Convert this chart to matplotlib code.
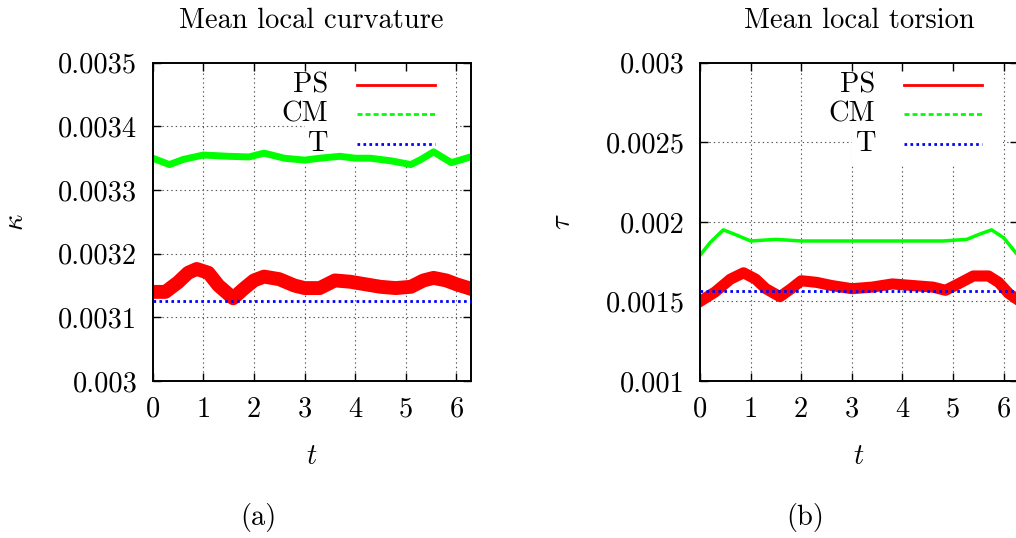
import matplotlib
matplotlib.use("Agg")
import matplotlib.pyplot as plt
from matplotlib.lines import Line2D
from matplotlib.patches import Rectangle

plt.rcParams['font.family'] = ['cmr10', 'DejaVu Serif']
plt.rcParams['mathtext.fontset'] = 'cm'
plt.rcParams['axes.unicode_minus'] = False
plt.rcParams['lines.scale_dashes'] = False

# curvature panel (a)
t_ps_k = [0, 0.25, 0.5, 0.7, 0.87, 1.1, 1.3, 1.59, 1.8, 2.0, 2.2, 2.5, 2.8, 3.0,
          3.3, 3.6, 3.9, 4.2, 4.5, 4.8, 5.1, 5.35, 5.55, 5.8, 6.0, 6.28]
ps_k = [0.003140, 0.003140, 0.003155, 0.003170, 0.003176, 0.003170, 0.003150,
        0.003130, 0.003145, 0.003158, 0.003164, 0.003160, 0.003150, 0.003146,
        0.003146, 0.003158, 0.003156, 0.003152, 0.003148, 0.003146, 0.003148,
        0.003158, 0.003162, 0.003158, 0.003152, 0.003145]
t_cm_k = [0, 0.33, 0.6, 1.0, 1.5, 1.9, 2.2, 2.6, 3.0, 3.3, 3.7, 4.0, 4.3, 4.7,
          5.1, 5.3, 5.55, 5.9, 6.28]
cm_k = [0.003350, 0.003340, 0.003348, 0.003355, 0.003353, 0.003352, 0.003358,
        0.003350, 0.003347, 0.003350, 0.003353, 0.003350, 0.003350, 0.003346,
        0.003340, 0.003348, 0.003360, 0.003343, 0.003352]
t_k = [0, 6.2832]
tt_k = [0.003126, 0.003126]

# torsion panel (b)
t_ps_t = [0, 0.3, 0.6, 0.86, 1.1, 1.3, 1.58, 1.8, 2.0, 2.3, 2.6, 3.0, 3.4, 3.8,
          4.2, 4.6, 4.85, 5.1, 5.4, 5.7, 5.9, 6.1, 6.28]
ps_t = [0.00150, 0.00156, 0.00164, 0.00168, 0.00164, 0.00158, 0.00153, 0.00158,
        0.00163, 0.00162, 0.00160, 0.00158, 0.00159, 0.00161, 0.00160, 0.00159,
        0.00157, 0.00161, 0.00166, 0.00166, 0.00162, 0.00155, 0.00151]
t_cm_t = [0, 0.2, 0.46, 0.7, 1.0, 1.5, 2.0, 3.0, 4.0, 4.8, 5.27, 5.5, 5.76, 6.0, 6.28]
cm_t = [0.00179, 0.00187, 0.00195, 0.00192, 0.00188, 0.00189, 0.00188, 0.00188,
        0.00188, 0.00188, 0.00189, 0.00192, 0.00195, 0.00190, 0.00179]
t_t = [0, 6.2832]
tt_t = [0.001567, 0.001567]

xticks = [0, 1, 2, 3, 4, 5, 6]
yticks_k = [0.003, 0.0031, 0.0032, 0.0033, 0.0034, 0.0035]
ylabels_k = ['0.003', '0.0031', '0.0032', '0.0033', '0.0034', '0.0035']
yticks_t = [0.001, 0.0015, 0.002, 0.0025, 0.003]
ylabels_t = ['0.001', '0.0015', '0.002', '0.0025', '0.003']

fig = plt.figure(figsize=(10.16, 5.38), dpi=100)
FS = 20.5


def panel(pos, title, ylab, yticks, ylabels, ps, cm, tt, lw_ps, lw_cm):
    ax = fig.add_axes(pos)
    ax.set_xlim(0, 6.2832)
    ax.set_ylim(yticks[0], yticks[-1])
    ax.set_xticks(xticks)
    ax.set_xticklabels([str(v) for v in xticks])
    ax.set_yticks(yticks)
    ax.set_yticklabels(ylabels)
    ax.tick_params(direction='in', length=6, width=1, top=True, right=True,
                   labelsize=FS, pad=11)
    for s in ax.spines.values():
        s.set_linewidth(1.4)
    # grid
    for x in xticks[1:]:
        ax.axvline(x, color='#555555', ls=(0, (1, 2.2)), lw=0.8, zorder=0.5)
    for y in yticks[1:-1]:
        ax.axhline(y, color='#555555', ls=(0, (1, 2.2)), lw=0.8, zorder=0.5)
    # opaque key box
    ax.add_patch(Rectangle((0.479, 0.679), 0.474, 0.321, transform=ax.transAxes,
                           facecolor='white', edgecolor='none', zorder=1))
    ax.plot(ps[0], ps[1], color='#ff0000', lw=lw_ps, zorder=2)
    ax.plot(cm[0], cm[1], color='#00ff00', lw=lw_cm, zorder=2)
    ax.plot(tt[0], tt[1], color='#0000ff', lw=2, ls=(0, (1.9, 2.4)), zorder=3)
    # key
    keys = [('PS', '#ff0000', '-'), ('CM', '#00ff00', (0, (3.6, 2.2))),
            ('T', '#0000ff', (0, (1.9, 2.4)))]
    for i, (lab, c, ls) in enumerate(keys):
        y = 0.930 - i * 0.0925
        ax.text(0.551, y, lab, transform=ax.transAxes, ha='right', va='center',
                fontsize=FS, zorder=4)
        ax.add_line(Line2D([0.642, 0.888], [y, y], transform=ax.transAxes,
                           color=c, lw=2, ls=ls, zorder=4))
    ax.set_title(title, fontsize=FS, pad=25)
    ax.set_xlabel('$t$', fontsize=FS, labelpad=15)
    ax.set_ylabel(ylab, fontsize=FS)
    ax.yaxis.set_label_coords(-0.39, 0.5)
    return ax


panel([0.1503, 0.2918, 0.313, 0.5916], 'Mean local curvature', r'$\kappa$',
      yticks_k, ylabels_k, (t_ps_k, ps_k), (t_cm_k, cm_k), (t_k, tt_k), 10, 5)
panel([0.689, 0.2918, 0.313, 0.5916], 'Mean local torsion', r'$\tau$',
      yticks_t, ylabels_t, (t_ps_t, ps_t), (t_cm_t, cm_t), (t_t, tt_t), 8, 2.5)

fig.text(258 / 1016, 1 - 518 / 538, '(a)', ha='center', va='center', fontsize=FS)
fig.text(805 / 1016, 1 - 518 / 538, '(b)', ha='center', va='center', fontsize=FS)

fig.savefig('out.png', dpi=100)
